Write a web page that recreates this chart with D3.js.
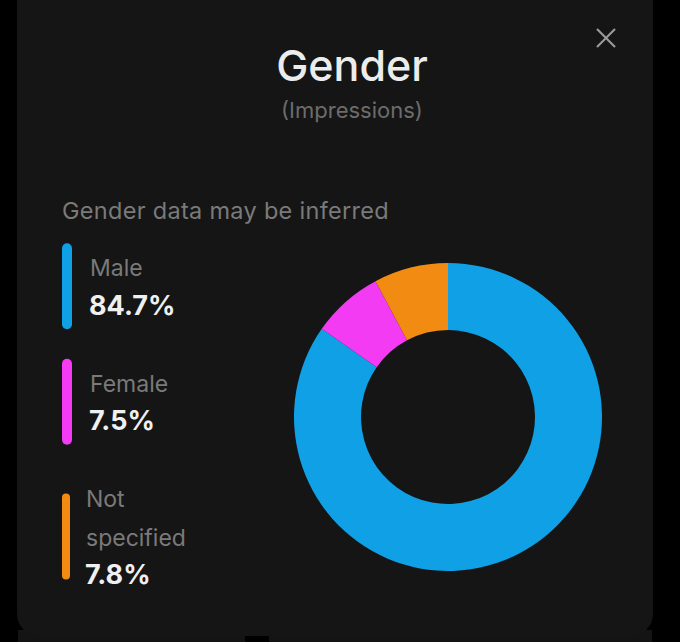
<!DOCTYPE html>
<html>
<head>
<meta charset="utf-8">
<script src="https://cdn.jsdelivr.net/npm/d3@7"></script>
<style>
  body { margin: 0; background: #000; }
  svg { display: block; font-family: Inter, "Noto Sans", sans-serif; }
</style>
</head>
<body>
<div id="chart-area"></div>
<script>
// values
var categories = ["Male", "Female", "Not specified"];
var shares = [84.7, 7.5, 7.8];
var sliceColors = ["#0fa0e6", "#f23bf2", "#f28b12"];

var width = 680, height = 642;

var svg = d3.select("#chart-area")
    .append("svg")
    .attr("width", width)
    .attr("height", height);

// strip of the next card peeking below
svg.append("rect").attr("x", 18).attr("y", 630).attr("width", 227).attr("height", 20).attr("fill", "#141414");
svg.append("rect").attr("x", 269).attr("y", 630).attr("width", 383).attr("height", 20).attr("fill", "#141414");

// card
svg.append("rect")
    .attr("x", 17)
    .attr("y", -24)
    .attr("width", 636)
    .attr("height", 660)
    .attr("rx", 22)
    .attr("fill", "#151515");

// close button
var close = svg.append("g")
    .attr("transform", "translate(606, 38)")
    .attr("stroke", "#9a9a9a")
    .attr("stroke-width", 2.2);
close.append("line").attr("x1", -9).attr("y1", -9).attr("x2", 9).attr("y2", 9);
close.append("line").attr("x1", 9).attr("y1", -9).attr("x2", -9).attr("y2", 9);

svg.append("text")
    .attr("x", 352)
    .attr("y", 81)
    .attr("text-anchor", "middle")
    .attr("font-size", "43px")
    .attr("font-weight", 500)
    .attr("fill", "#ececec")
    .text("Gender");

svg.append("text")
    .attr("x", 352)
    .attr("y", 118)
    .attr("text-anchor", "middle")
    .attr("font-size", "22px")
    .attr("fill", "#6c6c6c")
    .text("(Impressions)");

svg.append("text")
    .attr("x", 62)
    .attr("y", 219)
    .attr("font-size", "23.5px")
    .attr("letter-spacing", "0.3px")
    .attr("fill", "#7a7a7a")
    .text("Gender data may be inferred");

var color = d3.scaleOrdinal()
    .domain(categories)
    .range(sliceColors);

// legend
var lineStep = 38.5;
var baseline = 276;
categories.forEach(function(cat, i) {
    var g = svg.append("g");
    var label = g.append("text")
        .attr("font-size", "23px")
        .attr("fill", "#7a7a7a");

    // wrap the label to the legend column
    var words = cat.split(" ");
    var lines = [words[0]];
    var probe = svg.append("text").attr("font-size", "23px");
    for (var w = 1; w < words.length; w++) {
        probe.text(lines[lines.length - 1] + " " + words[w]);
        if (probe.node().getComputedTextLength() > 110) lines.push(words[w]);
        else lines[lines.length - 1] += " " + words[w];
    }
    probe.remove();

    var first = baseline;
    var wrapped = lines.length > 1;
    var tx = wrapped ? 86 : 90;
    lines.forEach(function(l, j) {
        label.append("tspan")
            .attr("x", tx)
            .attr("y", first + j * lineStep)
            .text(l);
    });
    var last = first + lines.length * lineStep;

    g.append("text")
        .attr("x", tx - 1)
        .attr("y", last)
        .attr("font-size", "27px")
        .attr("font-weight", 700)
        .attr("fill", "#f0f0f0")
        .text(d3.format(".1f")(shares[i]) + "%");

    var mid = (first - 18 + last) / 2;
    g.append("rect")
        .attr("x", 62)
        .attr("y", mid - 43)
        .attr("width", wrapped ? 8 : 10)
        .attr("height", 86)
        .attr("rx", wrapped ? 4 : 5)
        .attr("fill", color(cat));

    baseline = last + 77;
});

// donut
var pie = d3.pie()
    .sort(null)
    .value(function(d) { return d.value; });

var arc = d3.arc()
    .innerRadius(87)
    .outerRadius(154);

var data = categories.map(function(c, i) { return { name: c, value: shares[i] }; });

var donut = svg.append("g")
    .attr("transform", "translate(448, 417)");

donut.selectAll("path")
    .data(pie(data))
    .enter()
    .append("path")
    .attr("d", arc)
    .attr("fill", function(d) { return color(d.data.name); });
</script>
</body>
</html>
